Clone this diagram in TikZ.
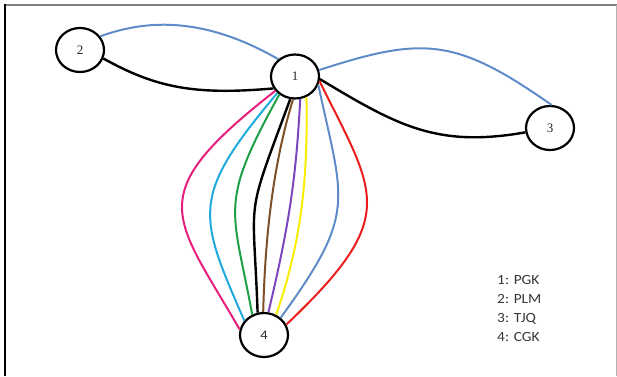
\documentclass[tikz,border=0pt]{standalone}
\usepackage{fontspec}
\setmainfont{Liberation Serif}
\newfontfamily\legendfont[FakeStretch=1.1]{Carlito}
\usetikzlibrary{shapes.geometric}
\definecolor{cpink}{RGB}{230,30,125}
\definecolor{ccyan}{RGB}{30,170,220}
\definecolor{cgreen}{RGB}{30,160,70}
\definecolor{cbrown}{RGB}{125,80,40}
\definecolor{cpurple}{RGB}{125,70,190}
\definecolor{cyellow}{RGB}{250,238,0}
\definecolor{cblue}{RGB}{95,140,200}
\definecolor{cred}{RGB}{235,30,30}
\definecolor{ctext}{RGB}{55,55,55}
\begin{document}
\begin{tikzpicture}[x=1pt,y=1pt,
  vtx/.style={ellipse, draw=black, line width=2.2pt, minimum width=48pt, minimum height=44pt, inner sep=0pt, text=black!85, font=\fontsize{13}{15}\selectfont},
  edge/.style={line width=2pt},
  bedge/.style={line width=2.4pt, black},
  legend/.style={anchor=base west, inner sep=0pt, text=ctext, font=\legendfont\fontsize{14}{16}\selectfont}]
\useasboundingbox (0,0) rectangle (617,376);
% frame
\draw[gray, line width=1.5pt] (5,371) -- (617,371);
\draw[black, line width=1.5pt] (5,371.75) -- (5,0);
\draw[gray!60, line width=0.8pt] (616.6,371) -- (616.6,0);
% nodes
\node[vtx] (n1) at (295,299.5) {1};
\node[vtx] (n2) at (80,326) {2};
\node[vtx] (n3) at (550,248) {3};
\node[vtx, font=\legendfont\fontsize{13}{15}\selectfont] (n4) at (264,41) {4};
% edges 2-1 and 1-3
\draw[cblue, edge] (n2.34) .. controls +(20:45) and +(150:90) .. (n1.134);
\draw[bedge] (n2.340) .. controls +(-29:60) and +(185:80) .. (n1.209);
\draw[cblue, edge] (n1.15) .. controls +(18:110) and +(145:117) .. (n3.86);
\draw[bedge] (n1.354) .. controls +(-31:90) and +(190:90) .. (n3.190);
% bundle 1-4
\draw[cpink, edge] (n1.216) .. controls +(218:171) and +(120:133) .. (n4.167);
\draw[ccyan, edge] (n1.223) .. controls +(230:136) and +(113.5:117) .. (n4.144);
\draw[cgreen, edge] (n1.229) .. controls +(241:127) and +(100.4:109) .. (n4.120);
\draw[bedge] (n1.258) .. controls +(249.8:133) and +(92:123) .. (n4.106);
\draw[cbrown, edge] (n1.265) .. controls +(253:73) and +(88.5:69) .. (n4.92);
\draw[cpurple, edge] (n1.283) .. controls +(267:83) and +(76.7:87) .. (n4.79);
\draw[cyellow, edge] (n1.299) .. controls +(271:76) and +(71:83) .. (n4.59);
\draw[cblue, edge] (n1.340) .. controls +(282:120) and +(54:131) .. (n4.46);
\draw[cred, edge] (n1.349) .. controls +(296.4:128) and +(43.6:157) .. (n4.25);
% legend
\node[legend] (l1) at (497,92) {1: PGK};
\node[legend] (l2) at (497,72.7) {2: PLM};
\node[legend] (l3) at (497,53.5) {3: TJQ};
\node[legend] (l4) at (497,34.3) {4: CGK};
\end{tikzpicture}
\end{document}
